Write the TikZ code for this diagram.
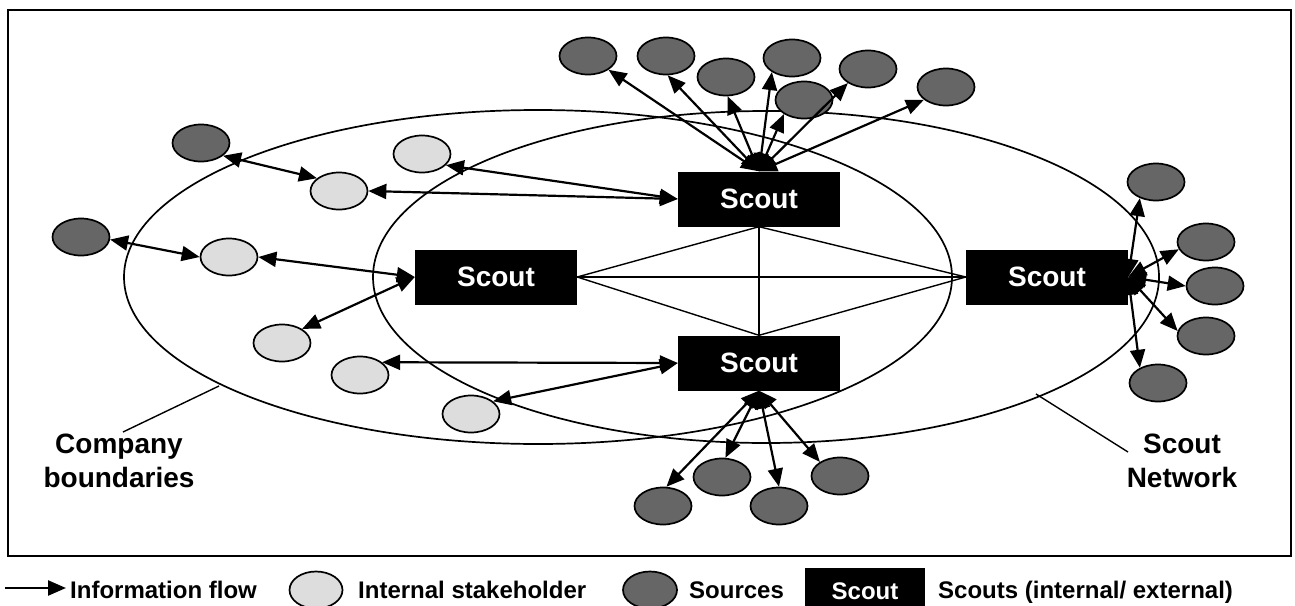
\documentclass[tikz,border=0pt]{standalone}
\usepackage{fontspec}
\setmainfont{Liberation Sans}
\usetikzlibrary{arrows.meta,shapes.geometric}
\definecolor{srcgray}{HTML}{666666}
\definecolor{stkgray}{HTML}{DDDDDD}
\begin{document}
\begin{tikzpicture}[x=1pt,y=-1pt,
  src/.style={ellipse,draw,line width=1.7pt,fill=srcgray,minimum width=57pt,minimum height=37pt,inner sep=0pt},
  stk/.style={src,fill=stkgray},
  scoutbox/.style={rectangle,fill=black,text=white,minimum width=162pt,minimum height=55pt,inner sep=0pt,font=\bfseries\fontsize{28}{32}\selectfont},
  tip/.style={Triangle[length=18pt,width=15pt]},
  flow/.style={line width=2.2pt,{Triangle[length=18pt,width=15pt]}-{Triangle[length=18pt,width=15pt]}},
  thinline/.style={line width=1.4pt},
  bigell/.style={line width=1.7pt},
  lbl/.style={font=\bfseries\fontsize{28}{34}\selectfont,align=center,inner sep=0pt,anchor=base},
  leg/.style={font=\bfseries\fontsize{24}{28}\selectfont,inner sep=0pt,anchor=base west}]
\useasboundingbox (0,0) rectangle (1295,605);
% frame
\draw[line width=2.2pt] (8,10) rectangle (1291,556);
% boundaries
\draw[bigell] (538,277) ellipse [x radius=414pt, y radius=167pt];
\draw[bigell] (766,277) ellipse [x radius=393pt, y radius=166pt];
% scouts
\node[scoutbox] (top) at (759,199) {Scout};
\node[scoutbox] (left) at (496,277) {Scout};
\node[scoutbox] (right) at (1047,277) {Scout};
\node[scoutbox] (bot) at (759,363) {Scout};
\draw[thinline] (left.east) -- (right.west);
\draw[thinline] (top.south) -- (bot.north);
\draw[thinline] (left.east) -- (top.south);
\draw[thinline] (left.east) -- (bot.north);
\draw[thinline] (right.west) -- (top.south);
\draw[thinline] (right.west) -- (bot.north);
% top sources
\node[src] (s1) at (588,56) {};
\node[src] (s2) at (666,56) {};
\node[src] (s3) at (726,77) {};
\node[src] (s4) at (792,58) {};
\node[src] (s5) at (804,100) {};
\node[src] (s6) at (868,69) {};
\node[src] (s7) at (946,87) {};
% right sources
\node[src] (r1) at (1156,182) {};
\node[src] (r2) at (1206,242) {};
\node[src] (r3) at (1215,286) {};
\node[src] (r4) at (1206,336) {};
\node[src] (r5) at (1158,383) {};
% bottom sources
\node[src] (b1) at (663,506) {};
\node[src] (b2) at (722,477) {};
\node[src] (b3) at (779,506) {};
\node[src] (b4) at (840,476) {};
% left sources and stakeholders
\node[src] (sa) at (201,143) {};
\node[src] (sb) at (81,237) {};
\node[stk] (kg) at (422,154) {};
\node[stk] (kc) at (339,191) {};
\node[stk] (kd) at (229,257) {};
\node[stk] (ke) at (282,343) {};
\node[stk] (kf) at (360,375) {};
\node[stk] (kh) at (471,414) {};
% arrows top
\draw[flow] (top.north) -- (s1);
\draw[flow] (top.north) -- (s2.275);
\draw[flow] (top.north) -- (s3.275);
\draw[flow] (top.north) -- (s4.215);
\draw[flow] (top.north) -- (s5.215);
\draw[flow] (top.north) -- (s6.215);
\draw[flow] (top.north) -- (s7.210);
% arrows right
\draw[flow] (right.east) -- (r1.225);
\draw[flow] (right.east) -- (r2.195);
\draw[flow] (right.east) -- (r3.180);
\draw[flow] (right.east) -- (r4.170);
\draw[flow] (right.east) -- (r5.140);
% arrows bottom
\draw[flow] (bot.south) -- (b1.80);
\draw[flow] (bot.south) -- (b2.80);
\draw[flow] (bot.south) -- (b3.90);
\draw[flow] (bot.south) -- (b4.145);
% arrows left
\draw[flow] (sa.-30) -- (kc.150);
\draw[flow] (sb.-5) -- (kd.180);
\draw[flow] (kc.0) -- (top.west);
\draw[flow] (kg.-25) -- (top.west);
\draw[flow] (kd.0) -- (left.west);
\draw[flow] (ke.35) -- (left.west);
\draw[flow] (kf.30) -- (bot.west);
\draw[flow] (kh.30) -- (bot.west);
% callouts
\coordinate (cb1) at (219,386);
\coordinate (cb2) at (123,432);
\coordinate (sn1) at (1036,394);
\coordinate (sn2) at (1128,452);
\draw[line width=1.4pt] (cb1) -- (cb2);
\draw[line width=1.4pt] (sn1) -- (sn2);
\node[lbl] (company) at (119,487) {Company\\boundaries};
\node[lbl] (network) at (1182,487) {Scout\\Network};
% legend
\coordinate (la) at (5,588);
\coordinate (lb) at (66,588);
\draw[line width=2.4pt,-{Triangle[length=18pt,width=15pt]}] (la) -- (lb);
\node[leg] (l1) at (70,598) {Information flow};
\node[stk,minimum width=53pt] (lk) at (316,590) {};
\node[leg] (l2) at (358,598) {Internal stakeholder};
\node[src,minimum width=54pt] (ls) at (650,590) {};
\node[leg] (l3) at (689,598) {Sources};
\node[rectangle,fill=black,text=white,minimum width=120pt,minimum height=46pt,inner sep=0pt,font=\bfseries\fontsize{24}{28}\selectfont] (lsc) at (865,591) {Scout};
\node[leg] (l4) at (938,598) {Scouts (internal/ external)};
\end{tikzpicture}
\end{document}
